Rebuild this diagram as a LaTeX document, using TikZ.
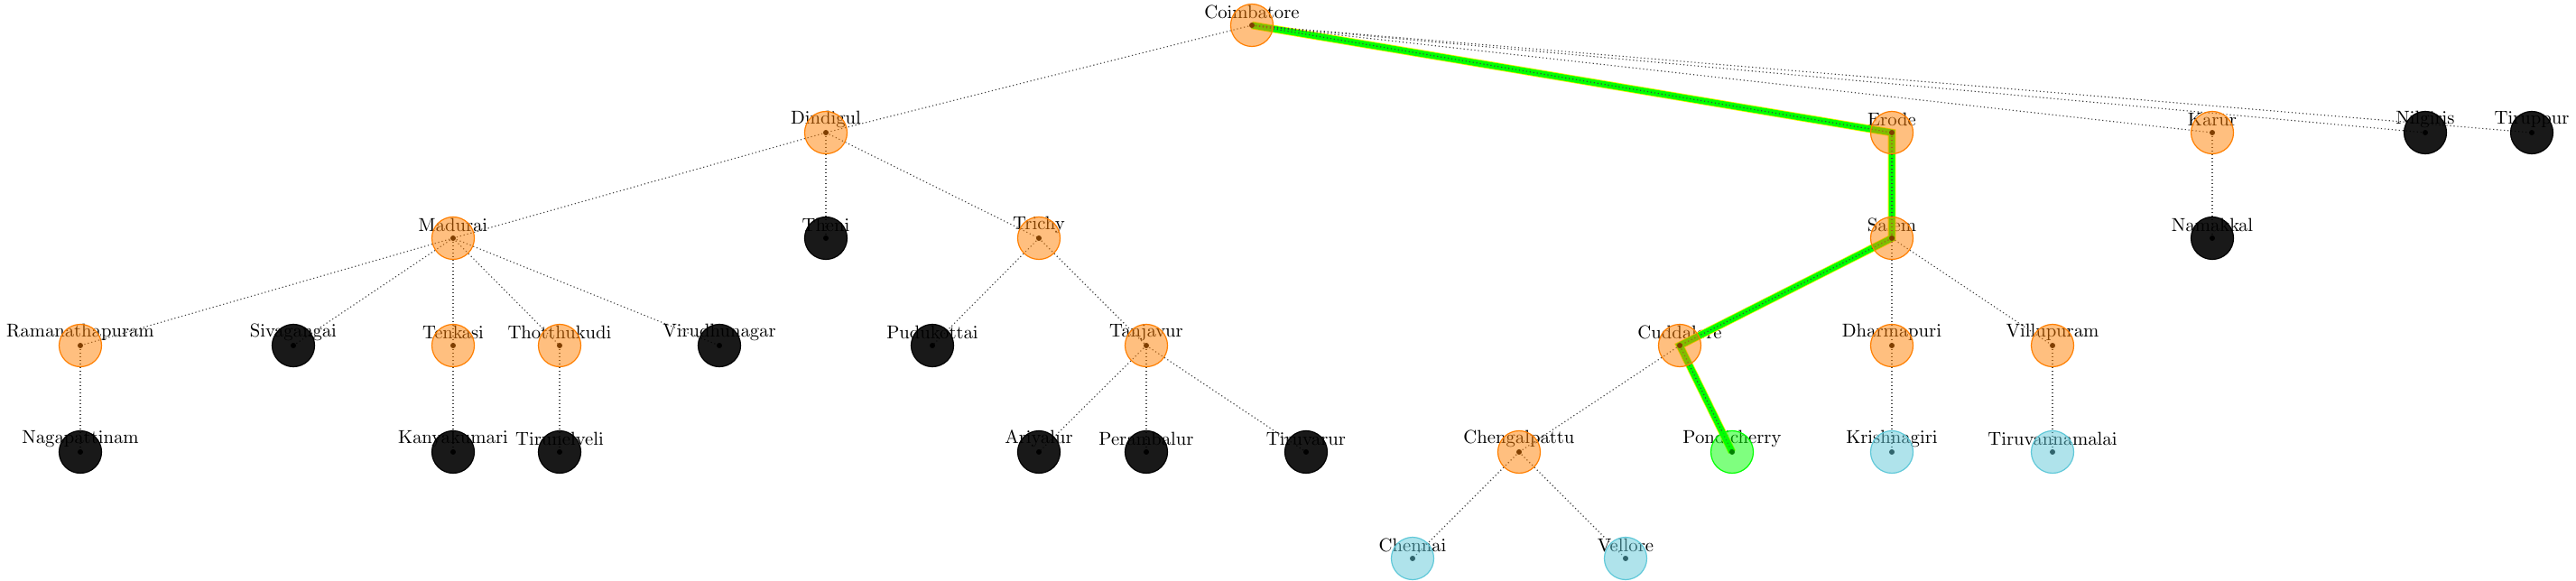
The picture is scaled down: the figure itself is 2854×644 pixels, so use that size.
\documentclass[tikz,border=0pt]{standalone}
\usetikzlibrary{positioning}

\definecolor{cityorange}{RGB}{255,127,0}
\definecolor{citycyan}{RGB}{96,200,216}
\definecolor{citygreen}{RGB}{0,255,0}
\font\cityfont=cmr10 at 20.7pt

\begin{document}
\begin{tikzpicture}[
    x = 1pt, y = -1pt,
    every node/.style = {font=\cityfont},
    city/.style    = {circle, minimum size=47pt, inner sep=0pt,
                      line width=1.2pt, fill opacity=0.5, draw opacity=1},
    expanded/.style = {city, draw=cityorange, fill=cityorange},
    leaf/.style     = {city, draw=black, fill=black, fill opacity=0.9},
    frontier/.style = {city, draw=citycyan, fill=citycyan},
    goal/.style     = {city, draw=citygreen, fill=citygreen},
    lbl/.style      = {inner sep=0pt, anchor=center},
    edge/.style     = {line width=1.1pt, black!75, dash pattern=on 1.2pt off 2.8pt},
    route/.style    = {line width=7pt, citygreen},
    routeedge/.style = {line width=8.6pt, yellow}
]
\useasboundingbox (0,0) rectangle (2854,644);

% positions
\coordinate (Coimbatore)     at (1387,28);
\coordinate (Dindigul)       at (915,147);
\coordinate (Erode)          at (2096,147);
\coordinate (Karur)          at (2451,147);
\coordinate (Nilgiris)       at (2687,147);
\coordinate (Tiruppur)       at (2805,147);
\coordinate (Madurai)        at (502,264);
\coordinate (Theni)          at (915,264);
\coordinate (Trichy)         at (1151,264);
\coordinate (Salem)          at (2096,264);
\coordinate (Namakkal)       at (2451,264);
\coordinate (Ramanathapuram) at (89,383);
\coordinate (Sivagangai)     at (325,383);
\coordinate (Tenkasi)        at (502,383);
\coordinate (Thotthukudi)    at (620,383);
\coordinate (Virudhunagar)   at (797,383);
\coordinate (Pudukottai)     at (1033,383);
\coordinate (Tanjavur)       at (1270,383);
\coordinate (Cuddalore)      at (1861,383);
\coordinate (Dharmapuri)     at (2096,383);
\coordinate (Villupuram)     at (2274,383);
\coordinate (Nagapattinam)   at (89,501);
\coordinate (Kanyakumari)    at (502,501);
\coordinate (Tirunelveli)    at (620,501);
\coordinate (Ariyalur)       at (1151,501);
\coordinate (Perambalur)     at (1270,501);
\coordinate (Tiruvarur)      at (1447,501);
\coordinate (Chengalpattu)   at (1683,501);
\coordinate (Pondicherry)    at (1919,501);
\coordinate (Krishnagiri)    at (2096,501);
\coordinate (Tiruvannamalai) at (2274,501);
\coordinate (Chennai)        at (1565,619);
\coordinate (Vellore)        at (1801,619);

% names (under everything else)
\foreach \c in {Coimbatore, Dindigul, Erode, Karur, Nilgiris, Tiruppur,
                Madurai, Theni, Trichy, Salem, Namakkal,
                Ramanathapuram, Sivagangai, Tenkasi, Thotthukudi, Virudhunagar,
                Pudukottai, Tanjavur, Cuddalore, Dharmapuri, Villupuram,
                Nagapattinam, Kanyakumari, Tirunelveli, Ariyalur, Perambalur,
                Tiruvarur, Chengalpattu, Pondicherry, Krishnagiri,
                Tiruvannamalai, Chennai, Vellore}
    \node[lbl] (\c-l) at ([yshift=15pt]\c) {\c};

% found route
\draw[routeedge] (Coimbatore) -- (Erode) -- (Salem) -- (Cuddalore) -- (Pondicherry);
\draw[route]     (Coimbatore) -- (Erode) -- (Salem) -- (Cuddalore) -- (Pondicherry);

% search tree
\foreach \a/\b in {Coimbatore/Dindigul, Coimbatore/Erode, Coimbatore/Karur,
                   Coimbatore/Nilgiris, Coimbatore/Tiruppur,
                   Dindigul/Madurai, Dindigul/Theni, Dindigul/Trichy,
                   Madurai/Ramanathapuram, Madurai/Sivagangai, Madurai/Tenkasi,
                   Madurai/Thotthukudi, Madurai/Virudhunagar,
                   Ramanathapuram/Nagapattinam, Tenkasi/Kanyakumari,
                   Thotthukudi/Tirunelveli,
                   Trichy/Pudukottai, Trichy/Tanjavur,
                   Tanjavur/Ariyalur, Tanjavur/Perambalur, Tanjavur/Tiruvarur,
                   Erode/Salem, Karur/Namakkal,
                   Salem/Cuddalore, Salem/Dharmapuri, Salem/Villupuram,
                   Cuddalore/Chengalpattu, Cuddalore/Pondicherry,
                   Chengalpattu/Chennai, Chengalpattu/Vellore,
                   Dharmapuri/Krishnagiri, Villupuram/Tiruvannamalai}
    \draw[edge] (\a) -- (\b);

% centre dots
\foreach \c in {Coimbatore, Dindigul, Erode, Karur, Nilgiris, Tiruppur,
                Madurai, Theni, Trichy, Salem, Namakkal,
                Ramanathapuram, Sivagangai, Tenkasi, Thotthukudi, Virudhunagar,
                Pudukottai, Tanjavur, Cuddalore, Dharmapuri, Villupuram,
                Nagapattinam, Kanyakumari, Tirunelveli, Ariyalur, Perambalur,
                Tiruvarur, Chengalpattu, Pondicherry, Krishnagiri,
                Tiruvannamalai, Chennai, Vellore}
    \fill (\c) circle (3pt);

% cities
\foreach \c/\s in {Coimbatore/expanded, Dindigul/expanded, Erode/expanded,
                   Karur/expanded, Nilgiris/leaf, Tiruppur/leaf,
                   Madurai/expanded, Theni/leaf, Trichy/expanded,
                   Salem/expanded, Namakkal/leaf,
                   Ramanathapuram/expanded, Sivagangai/leaf, Tenkasi/expanded,
                   Thotthukudi/expanded, Virudhunagar/leaf, Pudukottai/leaf,
                   Tanjavur/expanded, Cuddalore/expanded, Dharmapuri/expanded,
                   Villupuram/expanded, Nagapattinam/leaf, Kanyakumari/leaf,
                   Tirunelveli/leaf, Ariyalur/leaf, Perambalur/leaf,
                   Tiruvarur/leaf, Chengalpattu/expanded, Pondicherry/goal,
                   Krishnagiri/frontier, Tiruvannamalai/frontier,
                   Chennai/frontier, Vellore/frontier}
    \node[\s] (\c-n) at (\c) {};
\end{tikzpicture}
\end{document}
